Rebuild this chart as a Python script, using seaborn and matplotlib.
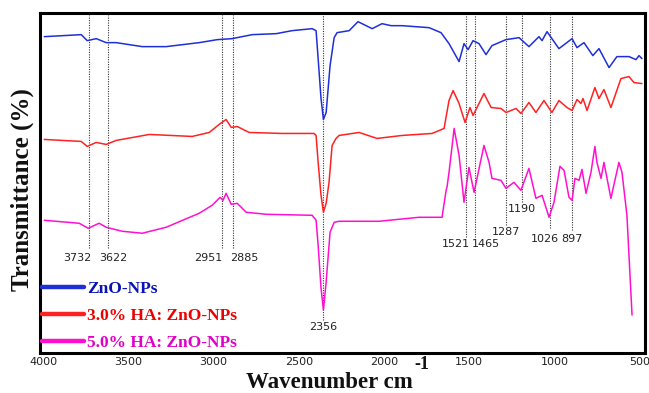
import numpy as np
import pandas as pd
import matplotlib
matplotlib.use("Agg")
import matplotlib.pyplot as plt
from matplotlib.lines import Line2D
import seaborn as sns

# ---------------- data ----------------
series_names = ["ZnO-NPs", "3.0% HA: ZnO-NPs", "5.0% HA: ZnO-NPs"]

zno_wn = [3994, 3777, 3742, 3689, 3631, 3572, 3419, 3279, 3085, 2979, 2892, 2774, 2633,
          2540, 2422, 2399, 2387, 2370, 2356, 2340, 2317, 2293, 2276, 2205, 2153, 2070,
          2012, 1959, 1894, 1736, 1666, 1619, 1560, 1531, 1507, 1478, 1443, 1402, 1367,
          1285, 1208, 1150, 1091, 1073, 1044, 974, 897, 868, 827, 775, 739, 680, 634,
          563, 522, 504, 487]
zno_t = [317, 319, 313, 315, 311, 311, 307, 307, 311, 314, 315, 319, 320,
         323, 325, 323, 295, 255, 234, 241, 288, 316, 321, 323, 332, 325,
         330, 328, 328, 326, 321, 310, 292, 310, 304, 313, 310, 299, 308,
         314, 316, 307, 317, 313, 322, 305, 315, 306, 311, 298, 305, 286, 297,
         297, 294, 298, 295]

ha3_wn = [3994, 3777, 3742, 3689, 3631, 3572, 3378, 3126, 3026, 2968, 2927, 2897, 2862,
          2792, 2598, 2411, 2399, 2387, 2370, 2356, 2340, 2323, 2305, 2282, 2264, 2147,
          2041, 1894, 1719, 1648, 1619, 1595, 1560, 1525, 1496, 1478, 1414, 1372, 1314,
          1285, 1226, 1197, 1150, 1109, 1062, 1015, 974, 927, 897, 868, 845, 833, 809,
          763, 739, 710, 669, 610, 563, 534, 487]
ha3_t = [214, 212, 207, 211, 209, 213, 219, 217, 221, 229, 234, 226, 227,
         221, 220, 220, 218, 191, 158, 141, 150, 171, 208, 215, 218, 221,
         215, 218, 220, 225, 253, 263, 250, 231, 246, 238, 260, 246, 245,
         241, 245, 240, 251, 241, 253, 241, 253, 246, 243, 254, 250, 255, 243,
         266, 255, 264, 246, 275, 277, 271, 270]

ha5_wn = [3994, 3789, 3736, 3672, 3631, 3537, 3419, 3279, 3085, 3009, 2962, 2945, 2927,
          2897, 2862, 2809, 2692, 2422, 2399, 2387, 2370, 2356, 2340, 2317, 2293, 2264,
          2205, 2029, 1795, 1660, 1636, 1631, 1619, 1589, 1560, 1531, 1502, 1472, 1414,
          1384, 1367, 1314, 1285, 1238, 1197, 1150, 1109, 1073, 1032, 1003, 968, 944,
          915, 897, 880, 856, 839, 815, 786, 763, 751, 727, 710, 669, 622, 604, 575, 545]
ha5_t = [133, 130, 125, 130, 126, 122, 120, 126, 140, 148, 156, 153, 160,
         149, 150, 141, 139, 138, 133, 108, 65, 43, 71, 121, 131, 132,
         132, 132, 136, 136, 163, 166, 181, 225, 198, 151, 186, 161, 208,
         191, 175, 173, 165, 171, 163, 185, 155, 158, 136, 151, 187, 183,
         156, 153, 175, 173, 184, 160, 181, 207, 191, 175, 191, 155, 191, 181, 138, 38]

peak_labels = ["3732", "3622", "2951", "2885", "2356", "1521", "1465",
               "1287", "1190", "1026", "897"]
peak_wn = [3732, 3622, 2951, 2885, 2356, 1521, 1465, 1287, 1190, 1026, 897]
peak_line_bottom = [105, 105, 105, 105, 33, 116, 116, 128, 151, 125, 123]

x_ticks = [4000, 3500, 3000, 2500, 2000, 1500, 1000, 500]

# ---------------- styling / layout ----------------
line_colors = ["#1f2fd8", "#ff2222", "#ff10d0"]
text_colors = ["#0a14b4", "#ee0000", "#e000c8"]
# label offsets in points (dx, dy relative to line x / line bottom)
label_offsets = [(-8, -7), (4, -7), (-10, -7), (8, -7), (0, -5), (-7, -5), (8, -5),
                 (0, -5), (0, -5), (-4, -8), (0, -6)]

df = pd.concat([
    pd.DataFrame({"wn": zno_wn, "T": zno_t, "sample": series_names[0]}),
    pd.DataFrame({"wn": ha3_wn, "T": ha3_t, "sample": series_names[1]}),
    pd.DataFrame({"wn": ha5_wn, "T": ha5_t, "sample": series_names[2]}),
])

sns.set_style("white")
plt.rcParams["font.family"] = ["DejaVu Sans"]

fig = plt.figure(figsize=(6.49, 3.93), dpi=100)
ax = fig.add_axes([39.5 / 649, 1 - 353 / 393, (645 - 39.5) / 649, (353 - 12.7) / 393])

sns.lineplot(data=df, x="wn", y="T", hue="sample", palette=dict(zip(series_names, line_colors)),
             linewidth=1.1, ax=ax, legend=False, estimator=None, sort=True)

ax.set_xlim(4022, 469)
ax.set_ylim(0, 341)
ax.set_xticks(x_ticks)
ax.set_xticklabels([str(t) for t in x_ticks], fontsize=8, color="#222222")
ax.tick_params(axis="x", length=0, pad=3)
ax.set_yticks([])
ax.set_xlabel("")
ax.set_ylabel("")

for s in ax.spines.values():
    s.set_visible(True)
    s.set_color("black")
    s.set_linewidth(2.2)

# dotted marker lines and labels
for lab, wn, yb, off in zip(peak_labels, peak_wn, peak_line_bottom, label_offsets):
    ax.plot([wn, wn], [yb, 339], color="#333333", lw=0.8, linestyle=(0, (1, 1.2)), zorder=1)
    ax.annotate(lab, xy=(wn, yb), xytext=off, textcoords="offset points",
                ha="center", va="center", fontsize=8, color="#222222")

# axis titles
fig.text(329 / 649, 1 - 388 / 393, "Wavenumber cm", ha="center", va="baseline",
         fontsize=16.5, fontweight="bold", family="Liberation Serif", color="#111111")
fig.text(414 / 649, 1 - 356 / 393, "-1", ha="left", va="top",
         fontsize=13, fontweight="bold", family="Liberation Serif", color="#111111")
fig.text(22 / 649, 1 - 190 / 393, "Transmittance (%)", ha="center", va="center",
         rotation=90, fontsize=18, fontweight="bold", family="Liberation Serif",
         color="#111111")

handles = [Line2D([0], [0], color=c, lw=3.2) for c in line_colors]
leg = ax.legend(handles, series_names, loc="lower left", bbox_to_anchor=(0.004, 0.006),
                frameon=False, handlelength=2.4, handletextpad=0.2, labelspacing=0.62,
                borderpad=0, borderaxespad=0,
                prop={"family": "Liberation Serif", "weight": "bold", "size": 12.5})
for txt, c in zip(leg.get_texts(), text_colors):
    txt.set_color(c)

fig.savefig("out.png", dpi=100)
